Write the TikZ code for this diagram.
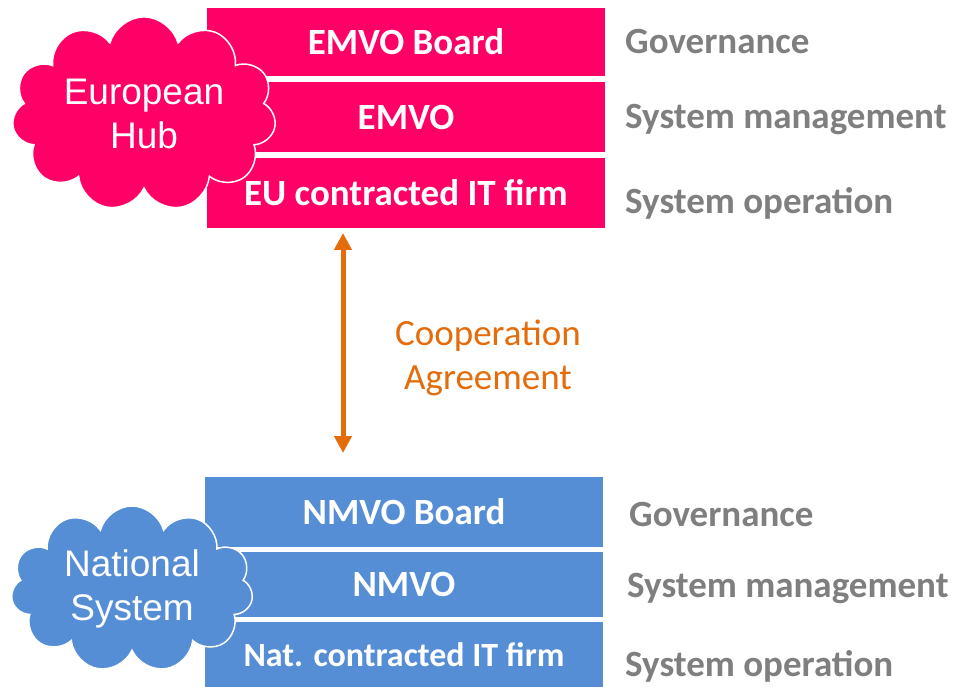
\documentclass[tikz,border=0pt]{standalone}
\usepackage{fontspec}
\setmainfont{Carlito}
\newfontfamily\cloudfont{Liberation Sans}
\usetikzlibrary{shapes.symbols,arrows.meta}
\definecolor{hubpink}{HTML}{FF0066}
\definecolor{natblue}{HTML}{558ED5}
\definecolor{coopor}{HTML}{E46C0A}
\definecolor{levelgray}{HTML}{7F7F7F}
\tikzset{
  layerbox/.style={rectangle, minimum width=398pt, minimum height=#1, inner sep=0pt,
    text=white, font=\fontsize{37}{42}\selectfont\bfseries},
  hubcloud/.style={cloud, cloud puffs=11, aspect=1.5, draw=white, line width=1.5pt,
    inner sep=0pt, text=white, align=center, font=\cloudfont\fontsize{37}{44}\selectfont},
  levellabel/.style={anchor=west, inner sep=0pt, text=levelgray,
    font=\fontsize{37}{42}\selectfont\bfseries},
  cooptext/.style={align=center, text=coopor, font=\fontsize{37}{44}\selectfont}
}
\begin{document}
\begin{tikzpicture}[x=1pt,y=-1pt]
\useasboundingbox (0,0) rectangle (954,687);

%European layers
\node [layerbox=68pt, fill=hubpink] (emvoboard) at (406,42) {EMVO Board};
\node [layerbox=70pt, fill=hubpink] (emvo) at (406,117) {EMVO};
\node [layerbox=70pt, fill=hubpink] (eufirm) at (406,193) {EU contracted IT firm};

%National layers
\node [layerbox=70pt, fill=natblue] (nmvoboard) at (404,512) {NMVO Board};
\node [layerbox=65pt, fill=natblue] (nmvo) at (404,584.5) {NMVO};
\node [layerbox=65pt, fill=natblue, font=\fontsize{34}{38}\selectfont\bfseries] (natfirm) at (404,654.5) {Nat. contracted IT firm};

%Clouds
\node [hubcloud, fill=hubpink, minimum width=264pt, minimum height=170pt] (hub) at (144,114) {European\\Hub};
\node [hubcloud, fill=natblue, minimum width=242pt, minimum height=166pt] (natsys) at (132,589) {National\\System};

%Cooperation arrow
\coordinate (arrtop) at (343,233);
\coordinate (arrbot) at (343,453);
\draw [coopor, line width=5pt, {Triangle[width=17pt,length=17pt]}-{Triangle[width=17pt,length=17pt]}] (arrtop) -- (arrbot);
\node [cooptext] (coop) at (488,358) {Cooperation\\Agreement};

%Levels
\node [levellabel] (gov1) at (625,42) {Governance};
\node [levellabel] (man1) at (625,120) {System management};
\node [levellabel] (op1) at (625,203) {System operation};
\node [levellabel] (gov2) at (629,515) {Governance};
\node [levellabel] (man2) at (627,589) {System management};
\node [levellabel] (op2) at (625,666) {System operation};

\end{tikzpicture}
\end{document}
